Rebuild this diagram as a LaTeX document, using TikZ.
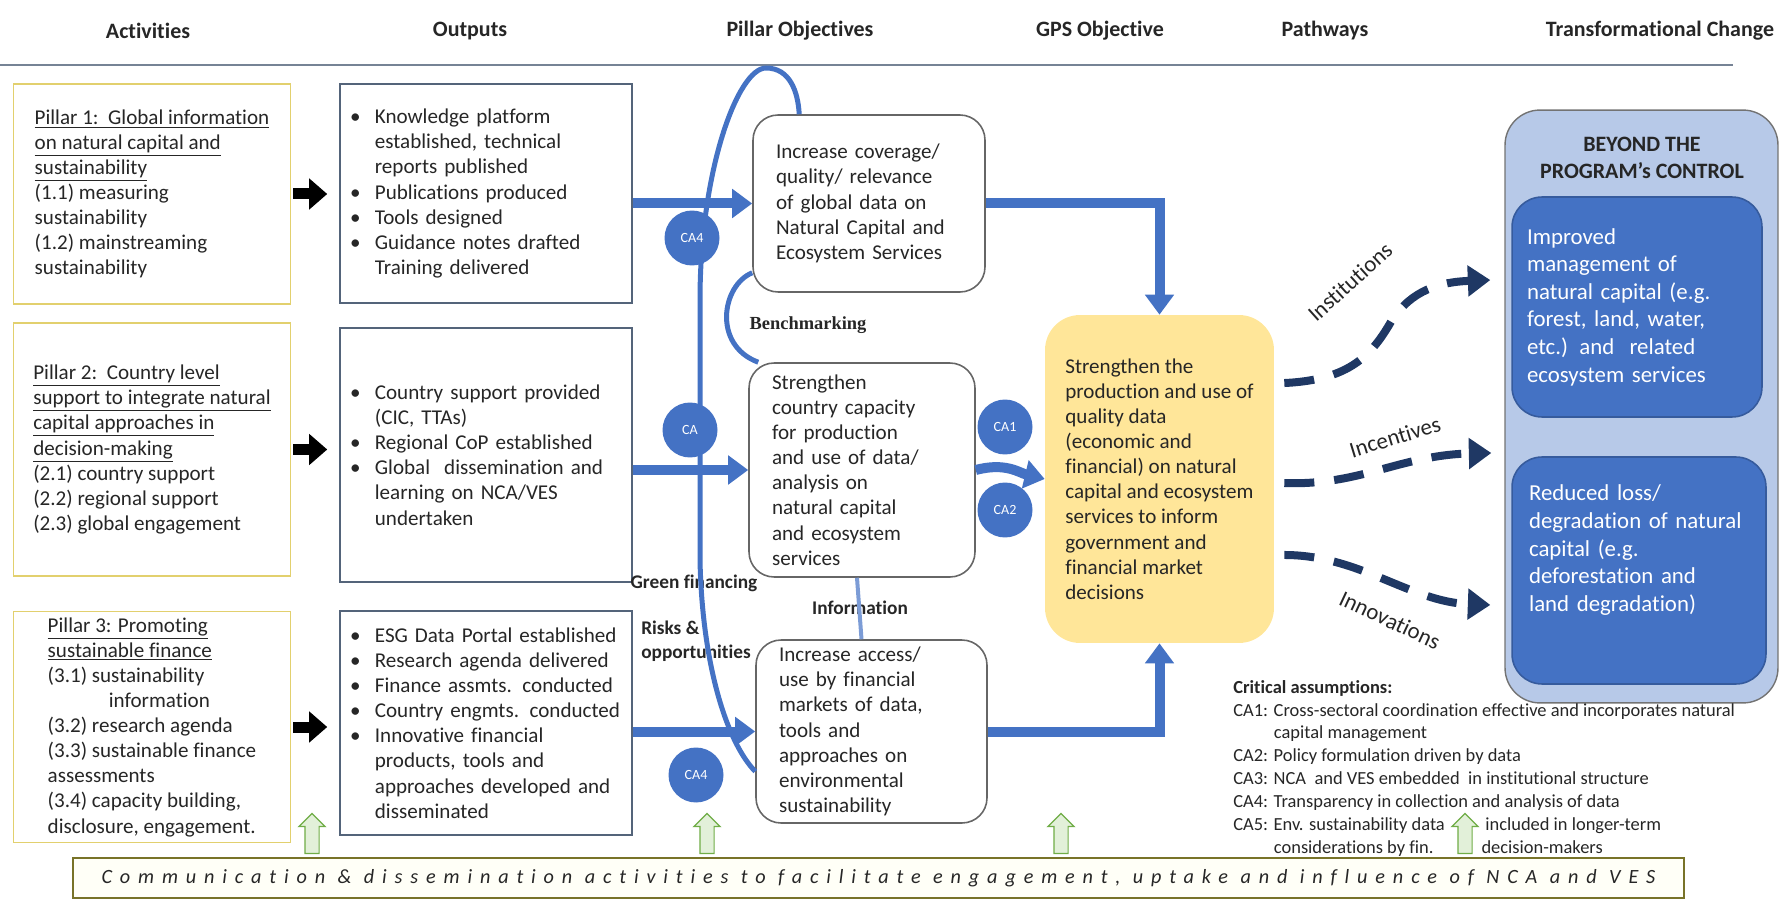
\documentclass[tikz,border=0pt]{standalone}
\usepackage{fontspec}
\setmainfont{Carlito}[Ligatures=CommonOff]
\newfontfamily\benchfont{Liberation Serif}
\usepackage{tikz}
\usetikzlibrary{arrows.meta,positioning,shapes.arrows,calc}

\definecolor{ToCblue}{RGB}{68,114,196}
\definecolor{ToCnavy}{RGB}{31,56,100}
\definecolor{ToCyellow}{RGB}{226,208,110}
\definecolor{ToCgold}{RGB}{255,230,153}
\definecolor{ToCslate}{RGB}{84,100,122}
\definecolor{ToCpanel}{RGB}{183,201,232}
\definecolor{ToCgreen}{RGB}{112,173,71}
\definecolor{ToCmint}{RGB}{226,240,217}
\definecolor{ToColive}{RGB}{120,115,40}

\newcommand{\bodyfont}{\fontsize{12pt}{14.3pt}\selectfont}
\newcommand{\bul}{\makebox[1.18em][l]{\textbullet}}
\newcommand{\ind}{\hspace*{1.18em}}

\begin{document}
\begin{tikzpicture}[x=0.02cm, y=-0.02cm, every node/.style={font=\bodyfont, text=black!85},
    colhead/.style={font=\fontsize{12.5pt}{15pt}\selectfont\bfseries},
    actbox/.style={draw=ToCyellow, line width=1.1pt, align=left, minimum width=5.54cm},
    outbox/.style={draw=ToCslate, line width=0.9pt, align=left, text width=5.44cm, inner xsep=0.2cm},
    pilbox/.style={draw=black!60, line width=0.9pt, rounded corners=0.5cm, align=left, inner xsep=0.46cm},
    outcome/.style={draw=ToCblue!80!black, fill=ToCblue, text=white, rounded corners=0.6cm, line width=0.9pt, align=left, text width=4.4cm, font=\fontsize{13pt}{15.7pt}\selectfont},
    ca/.style={circle, fill=ToCblue, text=white, minimum size=1.1cm, inner sep=0pt, font=\fontsize{8pt}{9pt}\selectfont},
    lbl/.style={font=\fontsize{11pt}{13.5pt}\selectfont\bfseries},
    pwlbl/.style={font=\fontsize{13pt}{15pt}\selectfont},
    bluearr/.style={draw=ToCblue, line width=0.2cm, -{Triangle[length=0.4cm,width=0.56cm]}},
    blkarr/.style={line width=0.22cm, -{Triangle[length=0.36cm,width=0.6cm]}},
    bigloop/.style={draw=ToCblue, line width=0.1cm},
    pathway/.style={draw=ToCnavy, line width=0.16cm, dash pattern=on 0.6cm off 0.4cm, -{Triangle[length=0.45cm,width=0.6cm]}},
    commarr/.style={single arrow, draw=ToCgreen, fill=ToCmint, line width=0.7pt, rotate=90, minimum height=0.8cm, inner sep=0.13cm, single arrow head extend=0.12cm, single arrow head indent=0pt}]
    \useasboundingbox (0,0) rectangle (1782,902);

    % column headings
    \node[colhead] (hact) at (148,31) {Activities};
    \node[colhead] (hout) at (470,31) {Outputs};
    \node[colhead] (hpil) at (800,31) {Pillar Objectives};
    \node[colhead] (hgps) at (1100,31) {GPS Objective};
    \node[colhead] (hpath) at (1325,31) {Pathways};
    \node[colhead] (htrans) at (1660,31) {Transformational Change};
    \draw[draw=ToCslate!80, line width=1pt] (0,65) -- (1733,65);

    % activities
    \node[actbox, minimum height=4.4cm] (p1) at (152,194) {\underline{Pillar 1:\ \ Global information}\\ \underline{on natural capital and}\\ \underline{sustainability}\\ (1.1) measuring\\ sustainability\\ (1.2) mainstreaming\\ sustainability};
    \node[actbox, minimum height=5.06cm] (p2) at (152,449.5) {\underline{Pillar 2:\ \ Country level}\\ \underline{support to integrate natural}\\ \underline{capital approaches in}\\ \underline{decision-making}\\ (2.1) country support\\ (2.2) regional support\\ (2.3) global engagement};
    \node[actbox, minimum height=4.6cm] (p3) at (152,727) {\underline{Pillar 3: Promoting}\\ \underline{sustainable finance}\\ (3.1) sustainability\\ \hspace*{2.9em}information\\ (3.2) research agenda\\ (3.3) sustainable finance\\ assessments\\ (3.4) capacity building,\\ disclosure, engagement.};

    % outputs
    \node[outbox, minimum height=4.38cm] (o1) at (486,193.5) {\bul Knowledge platform\\ \ind established, technical\\ \ind reports published\\ \bul Publications produced\\ \bul Tools designed\\ \bul Guidance notes drafted\\ \ind Training delivered};
    \node[outbox, minimum height=5.08cm] (o2) at (486,455) {\bul Country support provided\\ \ind (CIC, TTAs)\\ \bul Regional CoP established\\ \bul Global\ \ dissemination and\\ \ind learning on NCA/VES\\ \ind undertaken};
    \node[outbox, minimum height=4.48cm] (o3) at (486,723) {\bul ESG Data Portal established\\ \bul Research agenda delivered\\ \bul Finance assmts. conducted\\ \bul Country engmts. conducted\\ \bul Innovative financial\\ \ind products, tools and\\ \ind approaches developed and\\ \ind disseminated};

    % pillar objectives
    \node[pilbox, text width=3.72cm, minimum height=3.54cm] (po1) at (869,203.5) {Increase coverage/\\ quality/ relevance\\ of global data on\\ Natural Capital and\\ Ecosystem Services};
    \node[pilbox, text width=3.6cm, minimum height=4.28cm] (po2) at (862,470) {Strengthen\\ country capacity\\ for production\\ and use of data/\\ analysis on\\ natural capital\\ and ecosystem\\ services};
    \node[pilbox, text width=3.7cm, minimum height=3.66cm] (po3) at (871.5,731.5) {Increase access/\\ use by financial\\ markets of data,\\ tools and\\ approaches on\\ environmental\\ sustainability};

    % GPS objective
    \node[fill=ToCgold, rounded corners=0.7cm, minimum width=4.58cm, minimum height=6.56cm, align=left] (gps) at (1159.5,479) {Strengthen the\\ production and use of\\ quality data\\ (economic and\\ financial) on natural\\ capital and ecosystem\\ services to inform\\ government and\\ financial market\\ decisions};

    % transformational change
    \node[draw=black!55, fill=ToCpanel, rounded corners=0.7cm, line width=0.8pt, minimum width=5.46cm, minimum height=11.86cm] (panel) at (1641.5,406.5) {};
    \node[font=\fontsize{12.5pt}{15.5pt}\selectfont\bfseries, align=center] (beyond) at (1642,158) {BEYOND THE\\PROGRAM’s CONTROL};
    \node[outcome, inner xsep=0.3cm, minimum height=4.4cm] (tc1) at (1637,307) {Improved\\ management of\\ natural capital (e.g.\\ forest, land, water,\\ etc.) and\ \ related\\ ecosystem services};
    \node[outcome, inner xsep=0.34cm, minimum height=4.54cm, text depth=3.1cm] (tc2) at (1639,570.5) {Reduced loss/\\ degradation of natural\\ capital (e.g.\\ deforestation and\\ land degradation)};

    % labels on the loops
    \node[lbl, font=\fontsize{10.5pt}{13pt}\selectfont\benchfont\bfseries] (bench) at (808,325) {Benchmarking};
    \node[lbl] (greenfin) at (694,583) {Green financing};
    \node[lbl] (info) at (860,608) {Information};
    \node[lbl, align=left] (risks) at (696,641) {Risks \&\\opportunities};

    % arrows
    \draw[blkarr] ([xshift=0.04cm]p1.east) -- ([xshift=-0.24cm]p1.east -| o1.west);
    \draw[blkarr] ([xshift=0.04cm]p2.east) -- ([xshift=-0.24cm]p2.east -| o2.west);
    \draw[blkarr] ([xshift=0.04cm]p3.east) -- ([xshift=-0.24cm]p3.east -| o3.west);
    \draw[bluearr] (o1.east |- po1.west) -- (po1.west);
    \draw[bluearr] (o2.east |- po2.west) -- (po2.west);
    \draw[bluearr] (o3.east |- po3.west) -- (po3.west);
    \draw[bluearr] (po1.east) -| (gps.north);
    \draw[bluearr] (po3.east) -| (gps.south);
    \draw[bluearr] (po2.east) .. controls +(30,-8) and +(-25,-6) .. (gps.west);

    \draw[bigloop] ([yshift=-0.8cm]po3.west) .. controls (725,740) and (702,660) .. (700,560) -- (700,300) .. controls (700,170) and (738,68) .. (766,68) .. controls (790,68) and (798,92) .. ([xshift=0.94cm]po1.north west);
    \draw[bigloop] ([yshift=0.4cm]po1.south west) .. controls (722,285) and (712,345) .. ([xshift=0.2cm]po2.north west);
    \draw[draw=ToCblue!70, line width=0.08cm] ([xshift=-0.1cm]po2.south) -- ([xshift=-0.2cm]po3.north);

    % critical assumptions
    \node[ca] (ca4a) at (692,238) {CA4};
    \node[ca] (cab) at (690,430) {CA};
    \node[ca] (ca1) at (1005,427) {CA1};
    \node[ca] (ca2) at (1005,510) {CA2};
    \node[ca] (ca4b) at (696,775) {CA4};

    % pathways
    \draw[pathway] ([xshift=0.2cm,yshift=1.92cm]gps.east) .. controls (1350,380) and (1372,355) .. (1392,320) .. controls (1412,290) and (1440,282) .. ([xshift=-0.28cm,yshift=2.53cm]panel.west);
    \draw[pathway] ([xshift=0.2cm,yshift=-0.08cm]gps.east) .. controls (1360,486) and (1400,455) .. ([xshift=-0.26cm,yshift=-0.93cm]panel.west);
    \draw[pathway] ([xshift=0.2cm,yshift=-1.52cm]gps.east) .. controls (1360,555) and (1410,602) .. ([xshift=-0.28cm,yshift=-3.97cm]panel.west);
    \node[pwlbl, rotate=42] (inst) at (1350,282) {Institutions};
    \node[pwlbl, rotate=17] (incv) at (1395,437) {Incentives};
    \node[pwlbl, rotate=-25] (innov) at (1390,620) {Innovations};

    \node[anchor=north west, align=left, inner sep=0pt, font=\fontsize{10.5pt}{13pt}\selectfont] (crit) at (1233,680) {\textbf{Critical assumptions:}\\ CA1: Cross-sectoral coordination effective and incorporates natural\\ \hspace*{2.2em}capital management\\ CA2: Policy formulation driven by data\\ CA3: NCA\ \ and VES embedded\ \ in institutional structure\\ CA4: Transparency in collection and analysis of data\\ CA5: Env. sustainability data\hspace{2.2em}included in longer-term\\ \hspace*{2.2em}considerations by fin.\hspace{2.6em}decision-makers};

    % communication bar
    \node[draw=ToColive, fill=yellow!3, line width=0.9pt, minimum width=32.22cm, minimum height=0.8cm, inner sep=0pt] (bar) at (878.5,878) {\fontsize{11.5pt}{13pt}\selectfont\itshape\addfontfeature{LetterSpace=39}Communication \& dissemination activities to facilitate engagement, uptake and influence of NCA and VES};
    \foreach \gx/\gn in {312/g1, 707/g2, 1061/g3, 1465/g4}
        \node[commarr] (\gn) at (\gx,837) {};
\end{tikzpicture}
\end{document}
